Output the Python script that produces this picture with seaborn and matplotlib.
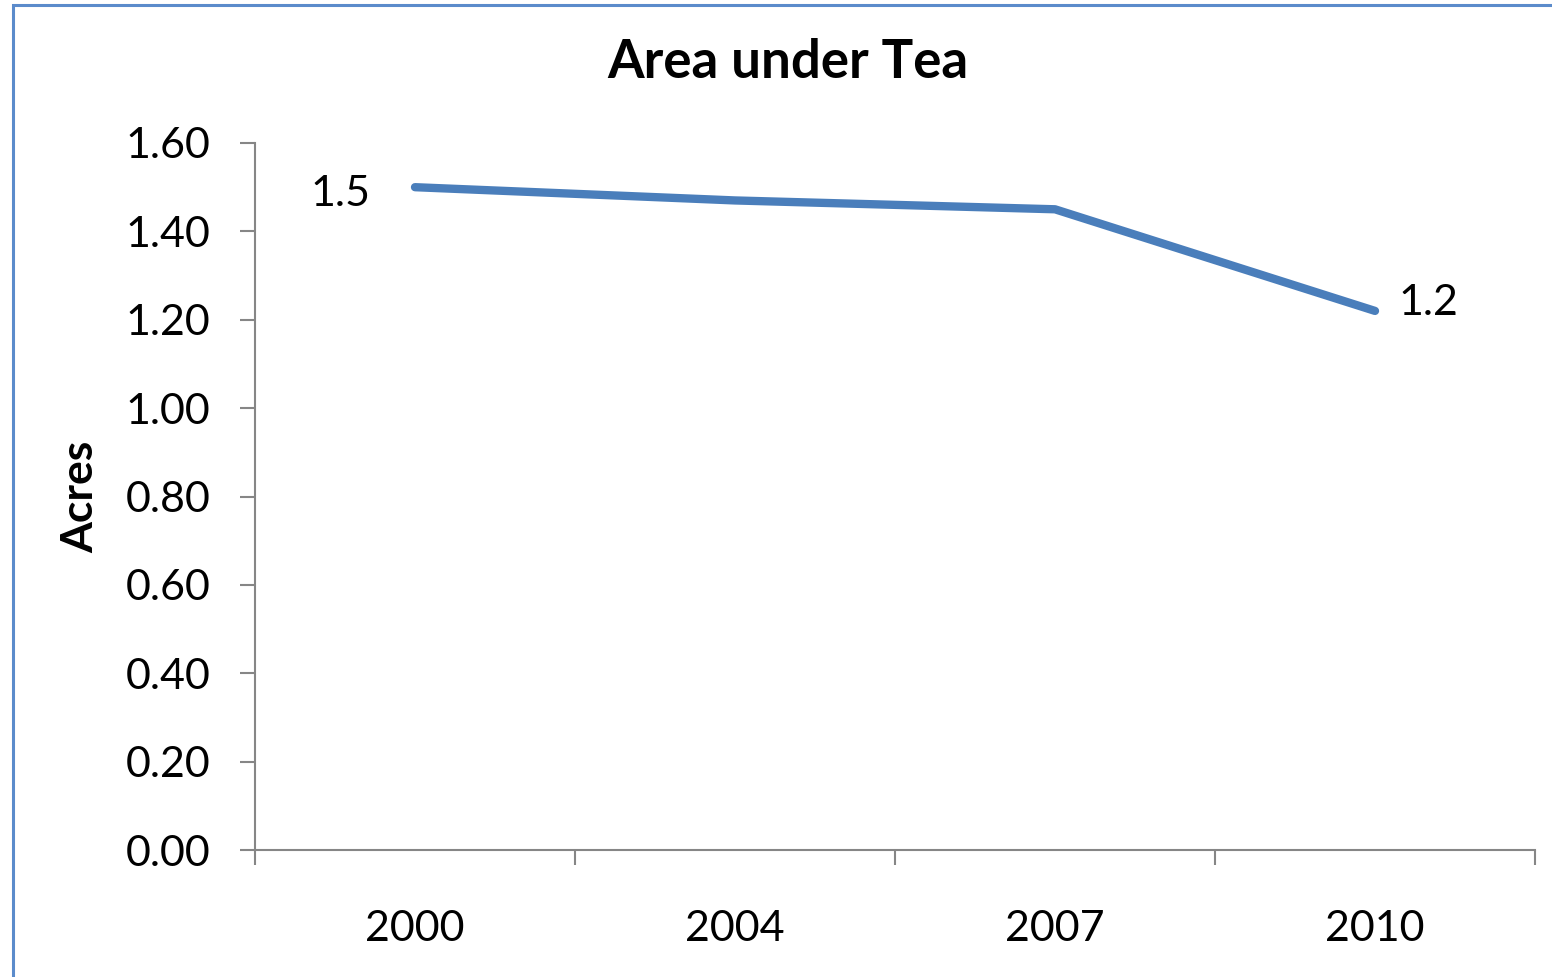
import matplotlib
matplotlib.use("Agg")
import matplotlib.pyplot as plt
import seaborn as sns
import pandas as pd
from matplotlib.patches import Rectangle

years = ["2000", "2004", "2007", "2010"]
acres = [1.50, 1.47, 1.45, 1.22]
label_text = ["1.5", "", "", "1.2"]
yticks = [0.0, 0.2, 0.4, 0.6, 0.8, 1.0, 1.2, 1.4, 1.6]

sns.set_style("white")
plt.rcParams['font.family'] = ['Lato', 'DejaVu Sans']
plt.rcParams['text.color'] = 'black'
plt.rcParams['xtick.color'] = 'black'
plt.rcParams['ytick.color'] = 'black'
plt.rcParams['axes.labelcolor'] = 'black'

df = pd.DataFrame({"idx": range(len(years)), "year": years, "acres": acres})

fig = plt.figure(figsize=(15.52, 9.77), dpi=100)
ax = fig.add_axes([255/1552, 1-850/977, (1535-255)/1552, (850-143)/977])

sns.lineplot(data=df, x="idx", y="acres", ax=ax, color="#4A7EBB", linewidth=6,
             solid_capstyle="round", solid_joinstyle="round")

ax.set_xlim(-0.5, len(years) - 0.5)
ax.set_ylim(0, 1.6)
ax.set_yticks(yticks)
ax.set_yticklabels([f"{v:.2f}" for v in yticks], fontsize=31)
ax.set_xticks([i - 0.5 for i in range(len(years) + 1)], minor=False)
ax.set_xticklabels([])
ax.set_xticks(range(len(years)), minor=True)
ax.set_xticklabels(years, minor=True, fontsize=31)
ax.tick_params(axis="x", which="minor", bottom=False, length=0, pad=43, labelcolor="black")
ax.tick_params(axis="x", which="major", bottom=True, length=11, width=1.5, color="#868686", direction="out")
ax.tick_params(axis="y", left=True, length=11, width=1.5, color="#868686", direction="out", pad=21,
               labelcolor="black")
ax.set_xlabel("")
ax.set_ylabel("Acres", fontsize=32, fontweight="bold", labelpad=18)

for s in ["top", "right"]:
    ax.spines[s].set_visible(False)
for s in ["left", "bottom"]:
    ax.spines[s].set_color("#868686")
    ax.spines[s].set_linewidth(1.5)

ax.annotate(label_text[0], (0, acres[0]), xytext=(-32, -5), textcoords="offset points",
            ha="right", va="center", fontsize=31)
ax.annotate(label_text[-1], (len(years) - 1, acres[-1]), xytext=(17, 6), textcoords="offset points",
            ha="left", va="center", fontsize=31)

fig.text(788/1552, 1 - 63/977, "Area under Tea", ha="center", va="center",
         fontsize=38, fontweight="bold")

fig.patches.append(Rectangle((13/1552, -0.1), 1.2, 1 - 5/977 + 0.1, transform=fig.transFigure,
                             fill=False, edgecolor="#5B8BCB", linewidth=2.2, zorder=10))

fig.savefig("out.png", dpi=100)
